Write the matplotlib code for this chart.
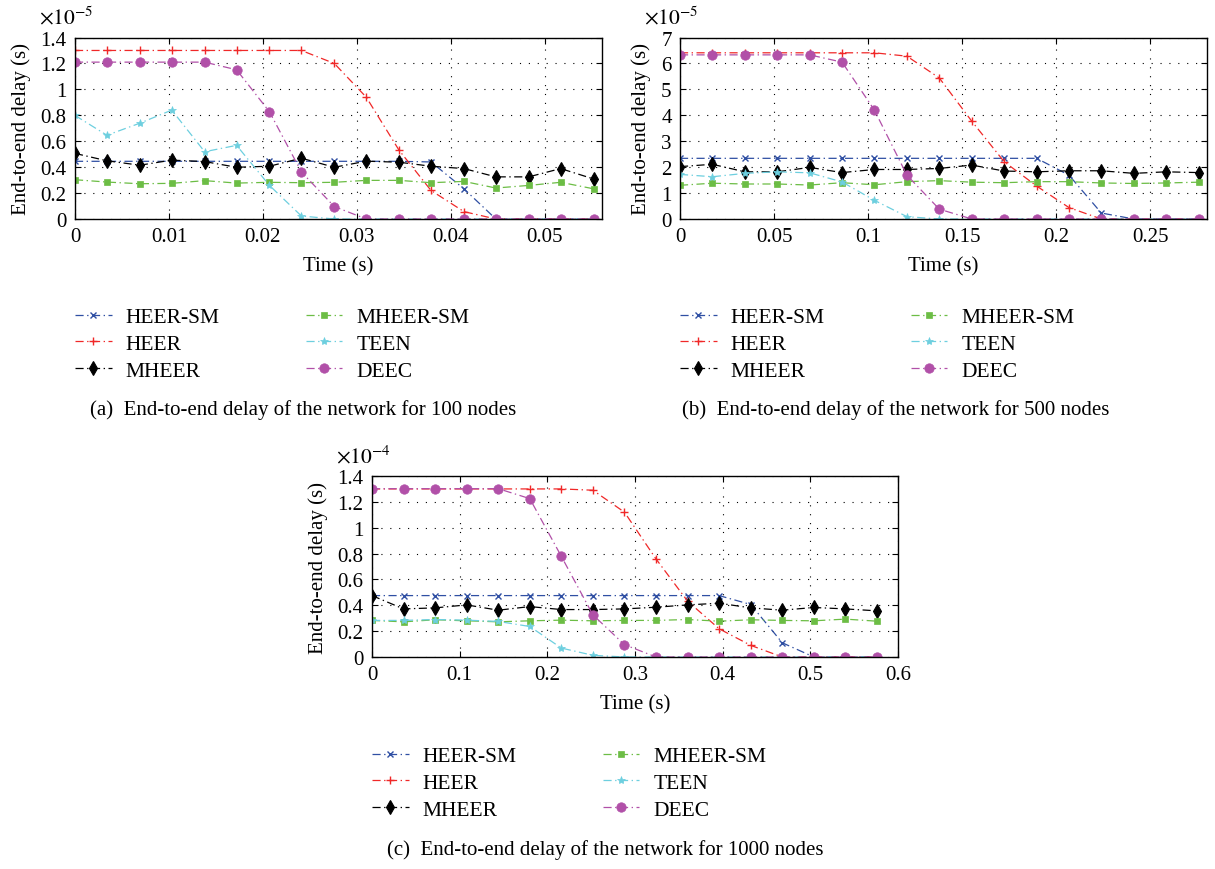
import matplotlib
matplotlib.use("Agg")
import matplotlib.pyplot as plt
from matplotlib.ticker import FormatStrFormatter, MultipleLocator

plt.rcParams["font.family"] = ["Liberation Serif", "DejaVu Serif"]
plt.rcParams["mathtext.fontset"] = "stix"

# ---------------- data ----------------
series_names = ["HEER-SM", "HEER", "MHEER", "MHEER-SM", "TEEN", "DEEC"]

# (a) 100 nodes, delay in units of 1e-5 s
t_a = [0, 0.0034, 0.0069, 0.0103, 0.0138, 0.0172, 0.0207, 0.0241, 0.0276,
       0.0310, 0.0345, 0.0379, 0.0414, 0.0448, 0.0483, 0.0517, 0.0552]
heersm_a = [0.445, 0.445, 0.445, 0.445, 0.445, 0.445, 0.445, 0.445, 0.445,
            0.445, 0.445, 0.44, 0.233, 0, 0, 0, 0]
heer_a = [1.3, 1.3, 1.3, 1.3, 1.3, 1.3, 1.3, 1.3, 1.2, 0.94, 0.53, 0.22,
          0.057, 0, 0, 0, 0]
mheer_a = [0.506, 0.449, 0.415, 0.454, 0.443, 0.399, 0.407, 0.469, 0.399,
           0.446, 0.438, 0.407, 0.389, 0.325, 0.325, 0.389, 0.309]
mheersm_a = [0.303, 0.285, 0.272, 0.275, 0.296, 0.277, 0.283, 0.28, 0.283,
             0.298, 0.298, 0.28, 0.29, 0.239, 0.259, 0.283, 0.233]
teen_a = [0.799, 0.646, 0.739, 0.84, 0.519, 0.568, 0.259, 0.023, 0, 0, 0,
          0, 0, 0, 0, 0, 0]
deec_a = [1.21, 1.21, 1.21, 1.21, 1.21, 1.151, 0.827, 0.363, 0.096, 0, 0,
          0, 0, 0, 0, 0, 0]

# (b) 500 nodes, delay in units of 1e-5 s
t_b = [0, 0.0172, 0.0345, 0.0517, 0.0690, 0.0862, 0.1034, 0.1207, 0.1379,
       0.1552, 0.1724, 0.1897, 0.2069, 0.2241, 0.2414, 0.2586, 0.2759]
heersm_b = [2.34, 2.34, 2.34, 2.34, 2.34, 2.34, 2.34, 2.34, 2.34, 2.34,
            2.34, 2.34, 1.69, 0.23, 0, 0, 0]
heer_b = [6.41, 6.41, 6.41, 6.41, 6.41, 6.41, 6.41, 6.28, 5.44, 3.77, 2.21,
          1.27, 0.44, 0, 0, 0, 0]
mheer_b = [2.02, 2.11, 1.82, 1.82, 1.99, 1.79, 1.91, 1.91, 1.95, 2.08, 1.85,
           1.82, 1.86, 1.86, 1.76, 1.82, 1.79]
mheersm_b = [1.30, 1.38, 1.35, 1.35, 1.31, 1.40, 1.32, 1.44, 1.48, 1.42,
             1.40, 1.44, 1.44, 1.39, 1.37, 1.39, 1.42]
teen_b = [1.72, 1.63, 1.76, 1.82, 1.78, 1.43, 0.72, 0.09, 0, 0, 0, 0, 0, 0,
          0, 0, 0]
deec_b = [6.33, 6.33, 6.33, 6.33, 6.33, 6.05, 4.2, 1.69, 0.38, 0, 0, 0, 0,
          0, 0, 0, 0]

# (c) 1000 nodes, delay in units of 1e-4 s
t_c = [0, 0.036, 0.072, 0.108, 0.144, 0.180, 0.216, 0.252, 0.288, 0.324,
       0.360, 0.396, 0.432, 0.468, 0.504, 0.540, 0.576]
heersm_c = [0.475, 0.475, 0.475, 0.475, 0.475, 0.475, 0.475, 0.475, 0.475,
            0.475, 0.475, 0.475, 0.406, 0.11, 0, 0, 0]
heer_c = [1.3, 1.3, 1.3, 1.3, 1.3, 1.3, 1.3, 1.29, 1.12, 0.758, 0.432,
          0.218, 0.09, 0, 0, 0, 0]
mheer_c = [0.475, 0.372, 0.38, 0.403, 0.362, 0.39, 0.367, 0.367, 0.372,
           0.385, 0.403, 0.416, 0.38, 0.362, 0.383, 0.372, 0.357]
mheersm_c = [0.283, 0.272, 0.288, 0.28, 0.272, 0.28, 0.285, 0.28, 0.283,
             0.283, 0.29, 0.277, 0.288, 0.283, 0.28, 0.293, 0.277]
teen_c = [0.283, 0.283, 0.29, 0.285, 0.275, 0.236, 0.069, 0.013, 0, 0, 0,
          0, 0, 0, 0, 0, 0]
deec_c = [1.302, 1.302, 1.302, 1.302, 1.302, 1.225, 0.778, 0.326, 0.095, 0,
          0, 0, 0, 0, 0, 0, 0]

x_ticks_a = [0, 0.01, 0.02, 0.03, 0.04, 0.05]
x_ticks_b = [0, 0.05, 0.1, 0.15, 0.2, 0.25]
x_ticks_c = [0, 0.1, 0.2, 0.3, 0.4, 0.5, 0.6]

captions = ["(a)  End-to-end delay of the network for 100 nodes",
            "(b)  End-to-end delay of the network for 500 nodes",
            "(c)  End-to-end delay of the network for 1000 nodes"]

# ---------------- styles ----------------
styles = {
    "HEER-SM": dict(color="#2f4fa3", marker="x", ms=4.0, mew=1.0),
    "HEER": dict(color="#f02828", marker="+", ms=6.0, mew=1.0),
    "MHEER": dict(color="#000000", marker="d", ms=7.0, mew=0.8),
    "MHEER-SM": dict(color="#6cbd45", marker="s", ms=5.0, mew=0.5),
    "TEEN": dict(color="#6dcfdf", marker="*", ms=6.0, mew=0.5),
    "DEEC": dict(color="#b150a8", marker="o", ms=6.8, mew=0.5),
}
dash_dot = (0, (6.5, 2.8, 1.1, 2.8))

W, H = 1215, 870
fig = plt.figure(figsize=(W / 100, H / 100), dpi=100)


def px_axes(left, top, right, bottom):
    return fig.add_axes([left / W, 1 - bottom / H, (right - left) / W,
                         (bottom - top) / H])


def draw_panel(ax, t, data, xlim, ylim, xticks, ystep, exponent,
               legend_xy, caption, caption_xy):
    handles = []
    for name, y in zip(series_names, data):
        st = styles[name]
        ln, = ax.plot(t, y, linestyle=dash_dot, lw=0.9, color=st["color"],
                      marker=st["marker"], ms=st["ms"], mew=st["mew"],
                      mec=st["color"], mfc=st["color"], label=name)
        handles.append(ln)
    ax.set_xlim(*xlim)
    ax.set_ylim(*ylim)
    ax.set_xticks(xticks)
    ax.yaxis.set_major_locator(MultipleLocator(ystep))
    ax.xaxis.set_major_formatter(FormatStrFormatter("%g"))
    ax.yaxis.set_major_formatter(FormatStrFormatter("%g"))
    ax.tick_params(direction="in", top=True, right=True, length=4,
                   width=0.8, labelsize=15, pad=6)
    ax.grid(True, color="black", linestyle=(0, (1, 7)), linewidth=0.8)
    for sp in ax.spines.values():
        sp.set_linewidth(1.0)
    ax.set_xlabel("Time (s)", fontsize=15, labelpad=7)
    ax.set_ylabel("End-to-end delay (s)", fontsize=15, labelpad=7)
    ax.annotate(r"$\times 10^{%d}$" % exponent, xy=(0, 1),
                xycoords="axes fraction", xytext=(-36, 9),
                textcoords="offset pixels", fontsize=15.5, ha="left",
                va="bottom")
    ax.legend(handles, series_names, loc="upper left",
              bbox_to_anchor=legend_xy, bbox_transform=fig.transFigure,
              ncol=2, frameon=False, fontsize=15.5, handlelength=1.7,
              handletextpad=0.65, columnspacing=4.0, labelspacing=0.32,
              borderpad=0, borderaxespad=0)
    fig.text(caption_xy[0], caption_xy[1], caption, fontsize=15,
             ha="center", va="center")


ax_a = px_axes(75, 38.5, 602, 220)
draw_panel(ax_a, t_a,
           [heersm_a, heer_a, mheer_a, mheersm_a, teen_a, deec_a],
           (0, 0.0561), (0, 1.4), x_ticks_a, 0.2, -5,
           (75 / W, 1 - 308 / H), captions[0], (303 / W, 1 - 410 / H))

ax_b = px_axes(680, 38.5, 1207, 220)
draw_panel(ax_b, t_b,
           [heersm_b, heer_b, mheer_b, mheersm_b, teen_b, deec_b],
           (0, 0.2803), (0, 7), x_ticks_b, 1, -5,
           (680 / W, 1 - 308 / H), captions[1], (896 / W, 1 - 410 / H))

ax_c = px_axes(372, 477, 898, 658)
draw_panel(ax_c, t_c,
           [heersm_c, heer_c, mheer_c, mheersm_c, teen_c, deec_c],
           (0, 0.6), (0, 1.4), x_ticks_c, 0.2, -4,
           (372 / W, 1 - 747 / H), captions[2], (605 / W, 1 - 850 / H))

fig.savefig("out.png", dpi=100)
